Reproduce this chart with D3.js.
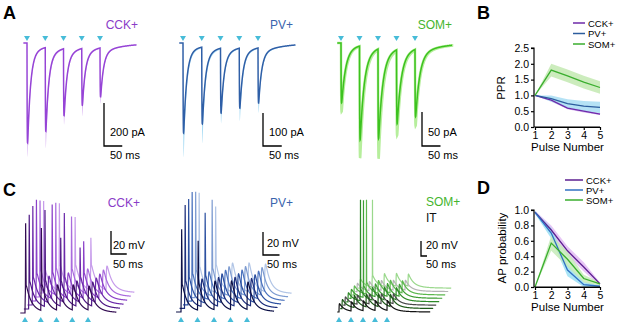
<!DOCTYPE html>
<html>
<head>
<meta charset="utf-8">
<script src="https://cdn.jsdelivr.net/npm/d3@7"></script>
<style>
body { margin: 0; background: #fff; }
svg { font-family: "Liberation Sans", Arial, sans-serif; }
.axis path, .axis line { stroke: #000; stroke-width: 1.2; }
.axis text { font-size: 10.5px; fill: #000; }
</style>
</head>
<body>
<svg id="fig" width="617" height="325"></svg>
<script>
// ---------- data ----------
const pulseTimes = [0, 50, 100, 150, 200];          // ms, 20 Hz
const somPulseTimesC = [0, 100, 200, 300, 400];      // ms, SOM current clamp
const pulseNumber = [1, 2, 3, 4, 5];

// A: EPSC peak amplitude (pA) and sem per pulse
const cckEpsc = [465, 390, 312, 265, 228];
const cckEpscSem = [65, 75, 37, 46, 28];
const pvEpsc = [273, 233, 197, 182, 167];
const pvEpscSem = [73, 55, 27, 36, 27];
const somEpsc = [88, 138, 132, 109, 99];
const somEpscSem = [13, 26, 28, 15, 12];

// B: paired pulse ratio
const pprCck = [1.0, 0.85, 0.6, 0.5, 0.41];
const pprCckSem = [0, 0.04, 0.04, 0.04, 0.03];
const pprPv = [1.0, 0.9, 0.74, 0.66, 0.62];
const pprPvSem = [0, 0.1, 0.14, 0.16, 0.18];
const pprSom = [1.0, 1.8, 1.62, 1.42, 1.25];
const pprSomSem = [0, 0.2, 0.2, 0.2, 0.2];

// C: EPSP amplitude (mV) per pulse, spike peaks (mV above rest, 0 = no spike) per trace x pulse
const cckEpsp = [24, 23, 22, 22, 21];
const cckSpikes = [
  [78, 74, 0, 0, 0],
  [82, 86, 62, 0, 0],
  [86, 0, 80, 50, 0],
  [88, 84, 0, 52, 0],
  [84, 82, 70, 0, 0],
  [80, 78, 66, 48, 0]
];
const pvEpsp = [24, 24, 25, 25, 24];
const pvSpikes = [
  [72, 62, 0, 0, 0],
  [90, 0, 0, 0, 0],
  [92, 80, 0, 0, 0],
  [95, 0, 0, 0, 0],
  [92, 85, 0, 0, 0],
  [88, 76, 0, 0, 0]
];
const itEpsp = [11, 12, 13, 13, 13];
const somEpsp = [12, 16, 17, 17, 16];
// traces bottom->top
const somItGroup = ["IT", "SOM", "IT", "SOM", "SOM", "SOM", "IT", "SOM"];
const somItSpikes = [
  [0, 0, 0, 0, 0],
  [0, 0, 0, 0, 0],
  [0, 0, 0, 0, 0],
  [0, 136, 0, 0, 0],
  [0, 131, 0, 0, 0],
  [0, 127, 0, 0, 0],
  [0, 0, 0, 0, 0],
  [0, 118, 0, 0, 0]
];

// D: AP probability
const apCck = [0.97, 0.74, 0.47, 0.26, 0.04];
const apCckSem = [0.02, 0.06, 0.06, 0.06, 0.02];
const apPv = [0.97, 0.7, 0.22, 0.03, 0.01];
const apPvSem = [0.02, 0.07, 0.08, 0.04, 0.01];
const apSom = [0.0, 0.57, 0.36, 0.11, 0.04];
const apSomSem = [0.0, 0.1, 0.1, 0.05, 0.02];

// ---------- style ----------
const COL = {
  cyan: "#47bcd8",
  cckA: "#9644d6", cckAlt: "#d9b4f2",
  pvA: "#2f5fa7", pvAlt: "#aadcf4",
  somA: "#3cc21f", somAlt: "#b6ee9c",
  cckLab: "#8a3cc8", pvLab: "#3a64ad", somLab: "#45b52e"
};
const svg = d3.select("#fig");

// ---------- helpers ----------
function makeKernel(tauR, tauD, tauS, wS) {
  const raw = s => s < 0 ? 0 :
    (1 - wS) * (Math.exp(-s / tauD) - Math.exp(-s / tauR)) + wS * (Math.exp(-s / tauS) - Math.exp(-s / tauR));
  let mx = 0;
  for (let s = 0; s < 30; s += 0.05) mx = Math.max(mx, raw(s));
  return s => raw(s) / mx;
}

function sumTrace(amps, times, kern, t0, t1, dt) {
  const out = [];
  for (let t = t0; t <= t1; t += dt) {
    let v = 0;
    amps.forEach((a, k) => { v += a * kern(t - times[k]); });
    out.push({t: t, v: v});
  }
  return out;
}

function triangle(x, y, w, h, up) {
  return up ? `M${x - w / 2},${y + h}L${x + w / 2},${y + h}L${x},${y}Z`
            : `M${x - w / 2},${y}L${x + w / 2},${y}L${x},${y + h}Z`;
}

function scaleBar(g, x0, y0, vLen, hLen, vText, hText, tx, vy, hy) {
  g.append("path")
    .attr("d", `M${x0},${y0 - vLen}L${x0},${y0}L${x0 + hLen},${y0}`)
    .attr("fill", "none").attr("stroke", "#000").attr("stroke-width", 1.3);
  g.append("text").attr("x", tx).attr("y", vy).attr("font-size", 11).text(vText);
  g.append("text").attr("x", tx).attr("y", hy).attr("font-size", 11).text(hText);
}

// ---------- panel A ----------
const panelA = [
  {name: "CCK+", amp: cckEpsc, sem: cckEpscSem, x0: 27, pxMs: 0.365, pxPa: 43 / 200, tauD: 8, bar: 200,
   line: COL.cckA, light: COL.cckAlt, lab: COL.cckLab, barX: 104, labEnd: 138, halo: 0},
  {name: "PV+", amp: pvEpsc, sem: pvEpscSem, x0: 183, pxMs: 0.375, pxPa: 33 / 100, tauD: 8, bar: 100,
   line: COL.pvA, light: COL.pvAlt, lab: COL.pvLab, barX: 263, labEnd: 293, halo: 0},
  {name: "SOM+", amp: somEpsc, sem: somEpscSem, x0: 341, pxMs: 0.37, pxPa: 34 / 50, tauD: 11, bar: 50,
   line: COL.somA, light: COL.somAlt, lab: COL.somLab, barX: 422, labEnd: 452, halo: 2.5}
];

panelA.forEach(p => {
  const g = svg.append("g");
  const x = d3.scaleLinear().domain([0, 100]).range([p.x0, p.x0 + 100 * p.pxMs]);
  const y = d3.scaleLinear().domain([0, -100]).range([43, 43 + 100 * p.pxPa]);
  const kern = makeKernel(0.5, p.tauD, 60, 0.08);
  const mean = sumTrace(p.amp, pulseTimes, kern, -10, 300, 0.2);
  const hi = sumTrace(p.amp.map((a, i) => a + p.sem[i]), pulseTimes, kern, -10, 300, 0.2);
  const area = d3.area().x(d => x(d.t)).y0((d, i) => y(-mean[i].v)).y1(d => y(-d.v));
  g.append("path").datum(hi).attr("d", area)
    .attr("fill", p.light).attr("stroke", p.halo ? p.light : "none").attr("stroke-width", p.halo);
  g.append("path").datum(mean)
    .attr("d", d3.line().x(d => x(d.t)).y(d => y(-d.v)))
    .attr("fill", "none").attr("stroke", p.line).attr("stroke-width", 1.5);
  g.selectAll("path.arrow").data(pulseTimes).join("path").attr("class", "arrow")
    .attr("d", d => triangle(x(d), 36, 6, 5, false)).attr("fill", COL.cyan);
  g.append("text").attr("x", p.labEnd).attr("y", 29).attr("text-anchor", "end")
    .attr("font-size", 12).attr("fill", p.lab).text(p.name);
  scaleBar(g, p.barX, 146, y(-p.bar) - y(0), x(50) - x(0), p.bar + " pA", "50 ms", p.barX + 6, 136, 159);
});

// ---------- panel C ----------
const panelC = [
  {name: "CCK+", epsp: [cckEpsp], spikes: cckSpikes, group: null, times: pulseTimes,
   x0: 25, pxMs: 0.315, pxMv: 1.15, base: 313, dx: 3.6, dy: -4, tauD: 16, tEnd: 290, dt: 0.2, delay: 2,
   colors: ["#330c52", "#4f1985", "#6c2aaa", "#8b41c9", "#a96add", "#c79ceb"],
   lab: COL.cckLab, labEnd: 140, barX: 111, barY: 254, textX: 113, vy: 249, hy: 268},
  {name: "PV+", epsp: [pvEpsp], spikes: pvSpikes, group: null, times: pulseTimes,
   x0: 181, pxMs: 0.33, pxMv: 1.15, base: 312, dx: 3.5, dy: -3.6, tauD: 14, tEnd: 282, dt: 0.2, delay: 2,
   colors: ["#0c1046", "#1d2f7c", "#2c50a0", "#4b73be", "#7e9cd1", "#b1c5e6"],
   lab: COL.pvLab, labEnd: 293, barX: 263, barY: 255, textX: 267, vy: 247, hy: 268},
  {name: "SOM+", epsp: [itEpsp, somEpsp], spikes: somItSpikes, group: somItGroup, times: somPulseTimesC,
   x0: 339, pxMs: 0.12, pxMv: 0.75, base: 312, dx: 3, dy: -3.4, tauD: 40, tEnd: 760, dt: 0.5, delay: 4,
   colors: ["#141414", "#1f5a1a", "#4a4a4a", "#2e8a28", "#3f9f35", "#5cb84e", "#b5b5b5", "#9ad88c"],
   lab: COL.somLab, labEnd: null, barX: 421, barY: 256, textX: 426, vy: 249, hy: 268}
];

panelC.forEach(p => {
  const g = svg.append("g");
  const kern = makeKernel(1.2, p.tauD, p.tauD * 3, 0.1);
  const n = p.spikes.length;
  // draw lightest (top) trace first
  d3.range(n - 1, -1, -1).forEach(j => {
    const x = d3.scaleLinear().domain([0, 100]).range([p.x0 + j * p.dx, p.x0 + j * p.dx + 100 * p.pxMs]);
    const y = d3.scaleLinear().domain([0, 100]).range([p.base + j * p.dy, p.base + j * p.dy - 100 * p.pxMv]);
    const amps = p.group ? (p.group[j] === "IT" ? p.epsp[0] : p.epsp[1]) : p.epsp[0];
    const tr = sumTrace(amps, p.times, kern, -15, p.tEnd, p.dt);
    p.spikes[j].forEach((pk, k) => {
      if (!pk) return;
      const ts = p.times[k] + p.delay;
      const iPk = Math.round((ts + 15) / p.dt);
      const h = pk - tr[iPk].v;
      const rise = 0.8, fall = 1.6;
      tr.forEach(d => {
        const s = d.t - ts;
        if (s > -rise && s <= 0) d.v += h * (1 + s / rise);
        else if (s > 0 && s < fall) d.v += h * (1 - s / fall);
      });
    });
    g.append("path").datum(tr)
      .attr("d", d3.line().x(d => x(d.t)).y(d => y(d.v)))
      .attr("fill", "none").attr("stroke", p.colors[j]).attr("stroke-width", 1.2);
    if (j === 0) {
      g.selectAll("path.arrow").data(p.times).join("path").attr("class", "arrow")
        .attr("d", d => triangle(x(d), 317, 6, 5, true)).attr("fill", COL.cyan);
      scaleBar(g, p.barX, p.barY, y(0) - y(20), x(50) - x(0), "20 mV", "50 ms", p.textX, p.vy, p.hy);
    }
  });
  if (p.labEnd) {
    g.append("text").attr("x", p.labEnd).attr("y", 207).attr("text-anchor", "end")
      .attr("font-size", 12).attr("fill", p.lab).text(p.name);
  } else {
    g.append("text").attr("x", 426).attr("y", 206).attr("font-size", 12).attr("fill", p.lab).text(p.name);
    g.append("text").attr("x", 426).attr("y", 222).attr("font-size", 12).attr("fill", "#111").text("IT");
  }
});

// ---------- panels B and D ----------
function summaryPanel(opt) {
  const g = svg.append("g");
  const x = d3.scaleLinear().domain([1, 5]).range([535, 600]);
  const y = d3.scaleLinear().domain(opt.yDomain).range(opt.yRange);
  opt.series.forEach(s => {
    const rows = pulseNumber.map((n, i) => ({n: n, v: s.v[i], e: s.e[i]}));
    g.append("path").datum(rows)
      .attr("d", d3.area().x(d => x(d.n)).y0(d => y(Math.max(0, d.v - d.e))).y1(d => y(d.v + d.e)))
      .attr("fill", s.band).attr("opacity", 0.85);
  });
  opt.series.forEach(s => {
    const rows = pulseNumber.map((n, i) => ({n: n, v: s.v[i]}));
    g.append("path").datum(rows)
      .attr("d", d3.line().x(d => x(d.n)).y(d => y(d.v)))
      .attr("fill", "none").attr("stroke", s.color).attr("stroke-width", 1.3);
  });
  g.append("g").attr("class", "axis").attr("transform", `translate(534,0)`)
    .call(d3.axisLeft(y).tickValues(opt.ticks).tickFormat(d3.format(".1f")).tickSize(3).tickPadding(2).tickSizeOuter(0));
  g.append("g").attr("class", "axis").attr("transform", `translate(0,${opt.yRange[0]})`)
    .call(d3.axisBottom(x).tickValues(pulseNumber).tickFormat(d3.format("d")).tickSize(3).tickPadding(2).tickSizeOuter(0));
  g.select(".axis path").attr("d", `M-3,${opt.yRange[1]}H0V${opt.yRange[0]}`);
  g.append("path").attr("d", `M534,${opt.yRange[0]}H600`).attr("stroke", "#000").attr("stroke-width", 1.2);
  g.append("text").attr("x", 567.5).attr("y", opt.yRange[0] + 24).attr("text-anchor", "middle")
    .attr("font-size", 11.5).text("Pulse Number");
  g.append("text").attr("transform", `translate(${opt.labX},${opt.labY}) rotate(-90)`)
    .attr("text-anchor", "middle").attr("font-size", 11.5).text(opt.yLabel);
  opt.series.forEach((s, i) => {
    const ly = opt.legY + i * opt.legStep;
    g.append("line").attr("x1", opt.legX).attr("x2", opt.legX + opt.legW).attr("y1", ly).attr("y2", ly)
      .attr("stroke", s.color).attr("stroke-width", 1.5);
    g.append("text").attr("x", opt.legX + opt.legW + 3).attr("y", ly + 3.5).attr("font-size", 9.5).text(s.name);
  });
}

summaryPanel({
  yDomain: [0, 2.5], yRange: [127, 48], ticks: [0, 0.5, 1, 1.5, 2, 2.5], yLabel: "PPR", labX: 505, labY: 88,
  legX: 573, legW: 12, legY: 23, legStep: 10.5,
  series: [
    {name: "CCK+", v: pprCck, e: pprCckSem, color: "#6e2aa9", band: "#d2acee"},
    {name: "PV+", v: pprPv, e: pprPvSem, color: "#2c5d9e", band: "#a8ddf3"},
    {name: "SOM+", v: pprSom, e: pprSomSem, color: "#3aae2e", band: "#c3e9b2"}
  ]
});

summaryPanel({
  yDomain: [0, 1], yRange: [287, 210], ticks: [0, 0.2, 0.4, 0.6, 0.8, 1.0], yLabel: "AP probability", labX: 506, labY: 248,
  legX: 565, legW: 18, legY: 180, legStep: 10,
  series: [
    {name: "CCK+", v: apCck, e: apCckSem, color: "#5c1f90", band: "#e3bcf4"},
    {name: "PV+", v: apPv, e: apPvSem, color: "#3070c2", band: "#9adff4"},
    {name: "SOM+", v: apSom, e: apSomSem, color: "#3aae2e", band: "#c6ebb9"}
  ]
});

// ---------- panel letters ----------
[["A", 3, 19], ["B", 477, 19], ["C", 3, 196], ["D", 477, 194]].forEach(l => {
  svg.append("text").attr("x", l[1]).attr("y", l[2]).attr("font-size", 18).attr("font-weight", "bold").text(l[0]);
});
</script>
</body>
</html>
